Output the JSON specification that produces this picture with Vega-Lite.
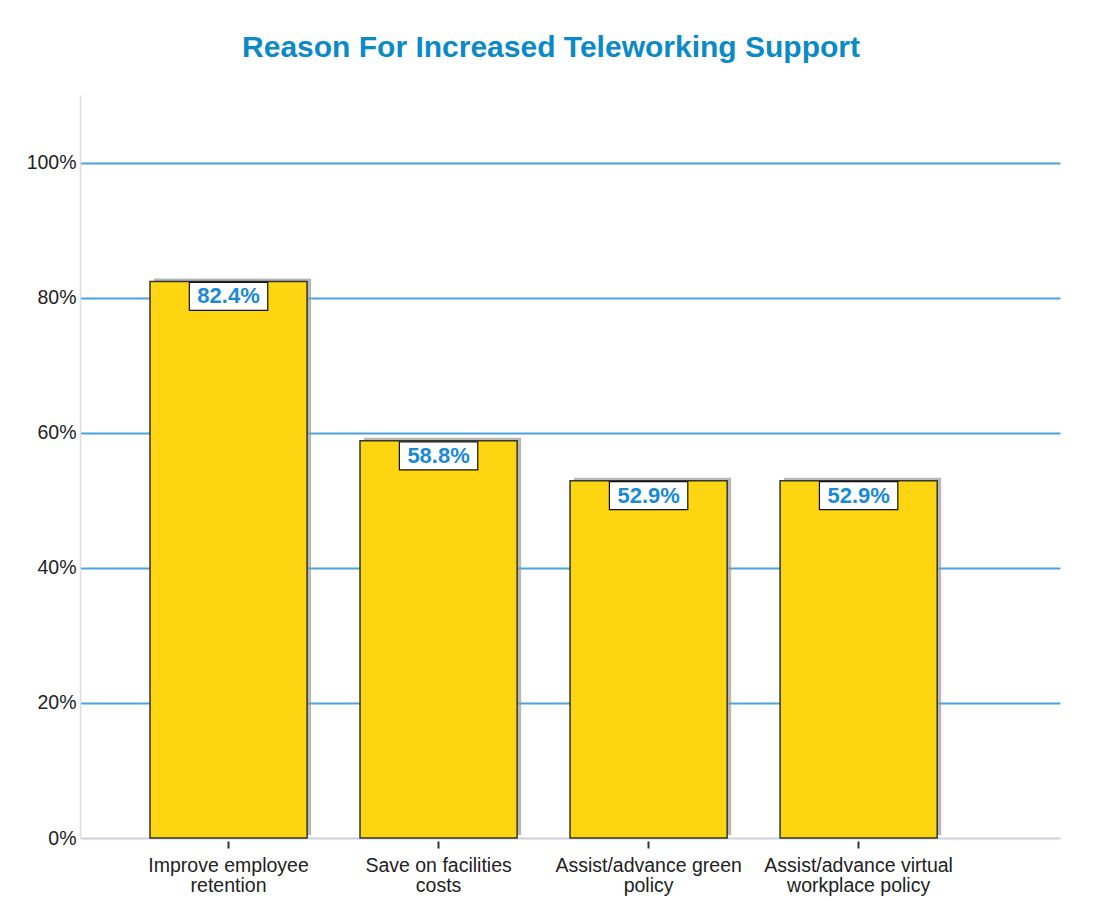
{
  "$schema": "https://vega.github.io/schema/vega-lite/v6.json",
  "width": 980,
  "height": 743,
  "autosize": "none",
  "padding": {"left": 80, "top": 95, "right": 34, "bottom": 63},
  "background": "white",
  "config": {"view": {"stroke": null}, "font": "Liberation Sans"},
  "title": {
    "text": "Reason For Increased Teleworking Support",
    "fontSize": 30,
    "fontWeight": "bold",
    "color": "#0a8ac8",
    "font": "Liberation Sans",
    "anchor": "middle",
    "frame": "group",
    "dx": -19,
    "offset": 32
  },
  "data": {
    "values": [
      {"reason": "Improve employee retention", "pct": 0.824},
      {"reason": "Save on  facilities costs", "pct": 0.588},
      {"reason": "Assist/advance green policy", "pct": 0.529},
      {"reason": "Assist/advance virtual workplace policy", "pct": 0.529}
    ]
  },
  "encoding": {
    "x": {
      "field": "reason",
      "type": "nominal",
      "sort": null,
      "scale": {"paddingInner": 0.252, "paddingOuter": 0.459, "align": 0.363},
      "axis": {
        "title": null,
        "labelAngle": 0,
        "domain": false,
        "offset": 3,
        "tickSize": 7,
        "tickWidth": 2,
        "tickColor": "#333333",
        "labelFontSize": 19.5,
        "labelColor": "#222222",
        "labelPadding": 8,
        "labelLineHeight": 20,
        "labelLimit": 300,
        "labelExpr": "datum.label == 'Improve employee retention' ? ['Improve employee', 'retention'] : datum.label == 'Save on  facilities costs' ? ['Save on  facilities', 'costs'] : datum.label == 'Assist/advance green policy' ? ['Assist/advance green', 'policy'] : ['Assist/advance virtual', 'workplace policy']"
      }
    },
    "y": {
      "field": "pct",
      "type": "quantitative",
      "scale": {"domain": [0, 1.1], "nice": false},
      "axis": {
        "title": null,
        "values": [0, 0.2, 0.4, 0.6, 0.8, 1.0],
        "format": ".0%",
        "ticks": false,
        "domainColor": "#dddddd",
        "domainWidth": 1.5,
        "labelFontSize": 19.5,
        "labelColor": "#222222",
        "labelPadding": 4,
        "grid": true,
        "gridWidth": 2,
        "gridColor": {"condition": {"test": "datum.value === 0", "value": "#c5d3e0"}, "value": "#4aa3dc"}
      }
    }
  },
  "layer": [
    {
      "mark": {"type": "bar", "color": "#9a9a9a", "opacity": 0.7, "xOffset": 4, "yOffset": -3}
    },
    {
      "mark": {"type": "bar", "color": "#FED511", "stroke": "#333333", "strokeWidth": 1.5}
    },
    {
      "mark": {
        "type": "point",
        "shape": "M-2.8,-1H2.8V1H-2.8Z",
        "size": 784,
        "filled": true,
        "fill": "white",
        "stroke": "#111111",
        "strokeWidth": 1.2,
        "opacity": 1,
        "yOffset": 15
      }
    },
    {
      "mark": {
        "type": "text",
        "font": "Liberation Sans",
        "fontWeight": "bold",
        "fontSize": 22,
        "color": "#1a8ad4",
        "baseline": "middle",
        "dy": 15
      },
      "encoding": {"text": {"field": "pct", "type": "quantitative", "format": ".1%"}}
    }
  ]
}
